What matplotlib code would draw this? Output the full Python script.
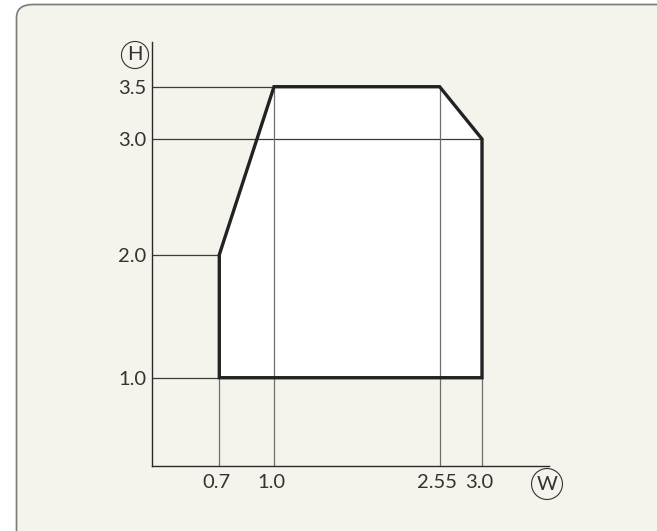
import numpy as np
import matplotlib
matplotlib.use("Agg")
import matplotlib.pyplot as plt
from matplotlib.patches import Polygon, FancyBboxPatch

# ---- data ----
x_ticks = [0.7, 1.0, 2.55, 3.0]
x_tick_labels = ["0.7", "1.0", "2.55", "3.0"]
y_ticks = [1.0, 2.0, 3.0, 3.5]
y_tick_labels = ["1.0", "2.0", "3.0", "3.5"]
poly_w = [0.7, 0.7, 1.0, 2.55, 3.0, 3.0]
poly_h = [1.0, 2.0, 3.5, 3.5, 3.0, 1.0]
x_label = "W"
y_label = "H"

# ---- schematic (non-linear) axis layout: data value -> relative pixel position ----
x_anchor_d = [0.0, 0.7, 1.0, 2.55, 3.0, 3.4]
x_anchor_p = [0.0, 67.0, 121.7, 287.3, 329.7, 396.7]
y_anchor_d = [0.0, 1.0, 2.0, 3.0, 3.5, 3.9]
y_anchor_p = [0.0, 88.3, 211.3, 327.0, 379.3, 424.0]

def fx(v):
    return np.interp(v, x_anchor_d, x_anchor_p)
def fx_inv(v):
    return np.interp(v, x_anchor_p, x_anchor_d)
def fy(v):
    return np.interp(v, y_anchor_d, y_anchor_p)
def fy_inv(v):
    return np.interp(v, y_anchor_p, y_anchor_d)

W, H = 657, 531
fig = plt.figure(figsize=(W / 100, H / 100), dpi=100)
fig.patch.set_facecolor("white")

bg = FancyBboxPatch((16.5 / W, -0.2), 1.2, 1.2 - 4.5 / H,
                    boxstyle="round,pad=0,rounding_size=0.025",
                    transform=fig.transFigure, facecolor="#f4f3ec",
                    edgecolor="#7a7a7a", linewidth=1.2, zorder=-10)
fig.patches.append(bg)

ax_left, ax_right = 152.3, 549.0
ax_bottom, ax_top = 466.0, 42.0
ax = fig.add_axes([ax_left / W, 1 - ax_bottom / H,
                   (ax_right - ax_left) / W, (ax_bottom - ax_top) / H])
ax.set_zorder(1)
ax.set_facecolor("none")
ax.set_xscale("function", functions=(fx, fx_inv))
ax.set_yscale("function", functions=(fy, fy_inv))
ax.set_xlim(x_anchor_d[0], x_anchor_d[-1])
ax.set_ylim(y_anchor_d[0], y_anchor_d[-1])

# guide lines from axes to polygon vertices
for yv in y_ticks:
    xe = max(px for px, py in zip(poly_w, poly_h) if py == yv)
    ax.plot([0, xe], [yv, yv], color="#3a3a3a", linewidth=0.9, zorder=1)
for xv in x_ticks:
    ye = max(py for px, py in zip(poly_w, poly_h) if px == xv)
    ax.plot([xv, xv], [0, ye], color="#6e6e6e", linewidth=0.9, zorder=1)

poly = Polygon(np.column_stack([poly_w, poly_h]), closed=True,
               facecolor="white", edgecolor="none", zorder=0.5)
ax.add_patch(poly)
edge = Polygon(np.column_stack([poly_w, poly_h]), closed=True,
               facecolor="none", edgecolor="#222222", linewidth=2.4,
               joinstyle="miter", zorder=3)
ax.add_patch(edge)

for s in ["top", "right"]:
    ax.spines[s].set_visible(False)
for s in ["left", "bottom"]:
    ax.spines[s].set_color("#2a2a2a")
    ax.spines[s].set_linewidth(1.0)

font = dict(family=["Lato", "DejaVu Sans"], size=14.5, color="#333333")
ax.set_xticks(x_ticks)
ax.set_xticklabels(x_tick_labels, **font)
ax.set_yticks(y_ticks)
ax.set_yticklabels(y_tick_labels, **font)
ax.tick_params(axis="both", length=0)
ax.tick_params(axis="x", pad=6)
ax.tick_params(axis="y", pad=4)
ax.minorticks_off()
# labels sit slightly left of their guide lines in the reference
from matplotlib.transforms import ScaledTranslation
for lbl in ax.get_xticklabels():
    lbl.set_transform(lbl.get_transform() + ScaledTranslation(-3 / 100, 0, fig.dpi_scale_trans))

circ = dict(boxstyle="circle,pad=0.25", facecolor="none", edgecolor="#333333", linewidth=0.8)
fig.text(135 / W, 1 - 55 / H, y_label, ha="center", va="center",
         bbox=circ, **font)
fig.text(547 / W, 1 - 484 / H, x_label, ha="center", va="center",
         bbox=circ, **font)

fig.savefig("out.png", dpi=100, facecolor=fig.get_facecolor())
